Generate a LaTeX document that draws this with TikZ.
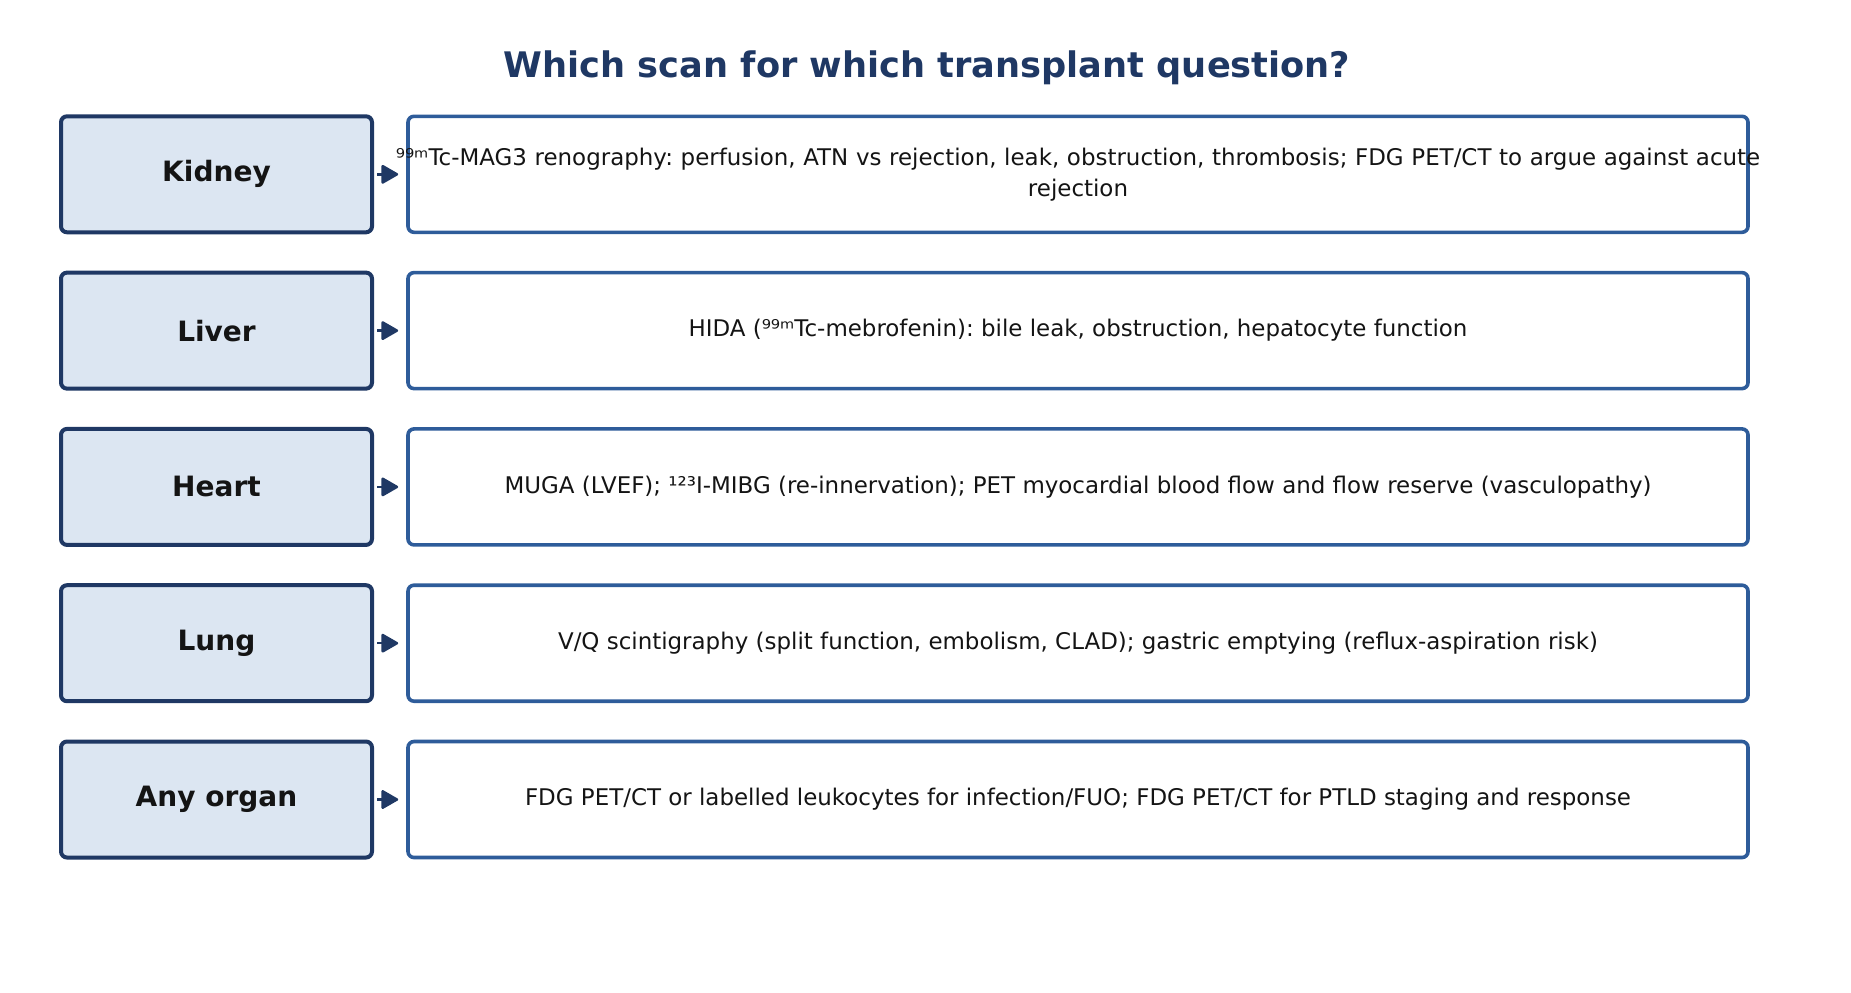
\documentclass[tikz,border=0pt]{standalone}
\usepackage{fontspec}
\setmainfont{DejaVu Sans}
\usepackage{tikz}
\usetikzlibrary{arrows.meta}
\definecolor{navy}{HTML}{1F3864}
\definecolor{scanblue}{HTML}{2E5C9A}
\definecolor{organfill}{HTML}{DCE6F2}
\definecolor{inktext}{HTML}{141414}
\frenchspacing

\begin{document}
\begin{tikzpicture}[x=0.5pt,y=-0.5pt,
  organ/.style={draw=navy, fill=organfill, line width=2pt, rounded corners=3pt,
    minimum width=155.5pt, minimum height=58pt, inner sep=0pt,
    text=inktext, font=\fontsize{14}{16}\selectfont\bfseries},
  scan/.style={draw=scanblue, fill=white, line width=1.8pt, rounded corners=3pt,
    minimum width=670pt, minimum height=58pt, inner sep=0pt, align=center,
    text=inktext, font=\fontsize{11.47}{15.5}\selectfont},
  link/.style={draw=navy, line width=1.2pt, shorten <=1.5pt, shorten >=4pt,
    -{Triangle[length=9pt,width=10pt,round]}}]
\useasboundingbox (0,0) rectangle (1851,992);

\node[font=\fontsize{17.6}{22}\selectfont\bfseries, text=navy] (T) at (927,67.5) {Which scan for which transplant question?};

\node[organ] (K) at (216.5,174.3) {Kidney};
\node[organ] (Li) at (216.5,330.6) {Liver};
\node[organ] (H) at (216.5,486.9) {Heart};
\node[organ] (Lu) at (216.5,643.2) {Lung};
\node[organ] (A) at (216.5,799.5) {Any organ};

% first line runs past the box, as in the original
\node[scan, text width=640pt] (KS) at (1078,174.3) {\makebox[640pt]{⁹⁹ᵐTc-MAG3 renography: perfusion, ATN vs rejection, leak, obstruction, thrombosis; FDG PET/CT to argue against acute}\\rejection};
\node[scan] (LiS) at (1078,330.6) {HIDA (⁹⁹ᵐTc-mebrofenin): bile leak, obstruction, hepatocyte function};
\node[scan] (HS) at (1078,486.9) {MUGA (LVEF); ¹²³I-MIBG (re-innervation); PET myocardial blood flow and flow reserve (vasculopathy)};
\node[scan] (LuS) at (1078,643.2) {V/Q scintigraphy (split function, embolism, CLAD); gastric emptying (reflux-aspiration risk)};
\node[scan] (AS) at (1078,799.5) {FDG PET/CT or labelled leukocytes for infection/FUO; FDG PET/CT for PTLD staging and response};

\draw[link] (K) -- (KS);
\draw[link] (Li) -- (LiS);
\draw[link] (H) -- (HS);
\draw[link] (Lu) -- (LuS);
\draw[link] (A) -- (AS);
\end{tikzpicture}
\end{document}
